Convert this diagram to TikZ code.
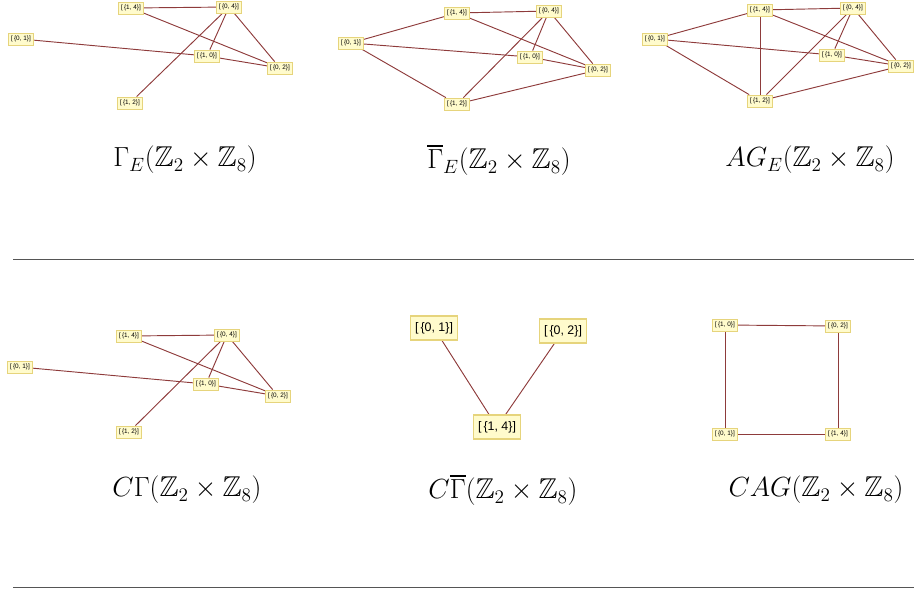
\documentclass[tikz,border=0pt]{standalone}
\usepackage{amssymb}
\usepackage{fontspec}
\newfontfamily\vfont{Liberation Sans}
\usetikzlibrary{backgrounds,shadows}
\definecolor{vfill}{HTML}{FFFBCC}
\definecolor{vdraw}{HTML}{E6D47C}
\definecolor{edgecol}{HTML}{8E3B3B}
\definecolor{rulecol}{HTML}{555555}
\tikzset{
  vsmall/.style={draw=vdraw, fill=vfill, line width=0.6pt, inner sep=0pt,
    minimum width=18.5pt, minimum height=9pt,
    font=\vfont\fontsize{4.8}{5}\selectfont,
    drop shadow={opacity=0.18, shadow xshift=0.6pt, shadow yshift=-0.6pt}},
  vlarge/.style={draw=vdraw, fill=vfill, line width=0.8pt, inner sep=0pt,
    minimum width=35pt, minimum height=18pt,
    font=\vfont\fontsize{9.3}{11}\selectfont,
    drop shadow={opacity=0.18, shadow xshift=0.8pt, shadow yshift=-0.8pt}},
  edge/.style={draw=edgecol, line width=0.7pt},
  caption/.style={font=\fontsize{21.5}{25}\selectfont, inner sep=0pt},
  rule/.style={draw=rulecol, line width=0.9pt},
}
\newcommand{\vlab}[2]{[\,\{#1, #2\}]}
\begin{document}
\begin{tikzpicture}[x=0.75pt, y=-0.75pt]
\useasboundingbox (0,0) rectangle (914,589);

% ---------- Panel 1: Gamma_E ----------
\node[vsmall] (a14) at (131,8) {\vlab{1}{4}};
\node[vsmall] (a04) at (229,7) {\vlab{0}{4}};
\node[vsmall] (a01) at (21,39) {\vlab{0}{1}};
\node[vsmall] (a10) at (207,56) {\vlab{1}{0}};
\node[vsmall] (a02) at (280,68) {\vlab{0}{2}};
\node[vsmall] (a12) at (130,103) {\vlab{1}{2}};
\begin{pgfonlayer}{background}
\draw[edge] (a14) -- (a04);
\draw[edge] (a14) -- (a02);
\draw[edge] (a04) -- (a10);
\draw[edge] (a04) -- (a12);
\draw[edge] (a04) -- (a02);
\draw[edge] (a01) -- (a10);
\draw[edge] (a10) -- (a02);
\end{pgfonlayer}
\node[caption] (capa) at (185,160) {$\Gamma_E(\mathbb{Z}_2\times\mathbb{Z}_8)$};

% ---------- Panel 2: overline Gamma_E ----------
\node[vsmall] (b14) at (457,13) {\vlab{1}{4}};
\node[vsmall] (b04) at (549,11) {\vlab{0}{4}};
\node[vsmall] (b01) at (351,43) {\vlab{0}{1}};
\node[vsmall] (b10) at (530,57) {\vlab{1}{0}};
\node[vsmall] (b02) at (598,70) {\vlab{0}{2}};
\node[vsmall] (b12) at (457,104) {\vlab{1}{2}};
\begin{pgfonlayer}{background}
\draw[edge] (b01) -- (b14);
\draw[edge] (b01) -- (b10);
\draw[edge] (b01) -- (b12);
\draw[edge] (b14) -- (b04);
\draw[edge] (b14) -- (b02);
\draw[edge] (b04) -- (b10);
\draw[edge] (b04) -- (b12);
\draw[edge] (b04) -- (b02);
\draw[edge] (b10) -- (b02);
\draw[edge] (b12) -- (b02);
\end{pgfonlayer}
\node[caption] (capb) at (499,160) {$\overline{\Gamma}_E(\mathbb{Z}_2\times\mathbb{Z}_8)$};

% ---------- Panel 3: AG_E ----------
\node[vsmall] (c14) at (760,10) {\vlab{1}{4}};
\node[vsmall] (c04) at (853,8) {\vlab{0}{4}};
\node[vsmall] (c01) at (655,39) {\vlab{0}{1}};
\node[vsmall] (c10) at (832,55) {\vlab{1}{0}};
\node[vsmall] (c02) at (901,66) {\vlab{0}{2}};
\node[vsmall] (c12) at (760,101) {\vlab{1}{2}};
\begin{pgfonlayer}{background}
\draw[edge] (c01) -- (c14);
\draw[edge] (c01) -- (c10);
\draw[edge] (c01) -- (c12);
\draw[edge] (c14) -- (c04);
\draw[edge] (c14) -- (c02);
\draw[edge] (c14) -- (c12);
\draw[edge] (c04) -- (c10);
\draw[edge] (c04) -- (c12);
\draw[edge] (c04) -- (c02);
\draw[edge] (c10) -- (c02);
\draw[edge] (c12) -- (c02);
\end{pgfonlayer}
\node[caption] (capc) at (810,160) {$AG_E(\mathbb{Z}_2\times\mathbb{Z}_8)$};

% ---------- rule 1 ----------
\coordinate (r1l) at (13,259.5);
\coordinate (r1r) at (914,259.5);
\draw[rule] (r1l) -- (r1r);

% ---------- Panel 4: C Gamma ----------
\node[vsmall] (d14) at (129,336) {\vlab{1}{4}};
\node[vsmall] (d04) at (227,335) {\vlab{0}{4}};
\node[vsmall] (d01) at (20,367) {\vlab{0}{1}};
\node[vsmall] (d10) at (206,384) {\vlab{1}{0}};
\node[vsmall] (d02) at (278,396) {\vlab{0}{2}};
\node[vsmall] (d12) at (129,432) {\vlab{1}{2}};
\begin{pgfonlayer}{background}
\draw[edge] (d14) -- (d04);
\draw[edge] (d14) -- (d02);
\draw[edge] (d04) -- (d10);
\draw[edge] (d04) -- (d12);
\draw[edge] (d04) -- (d02);
\draw[edge] (d01) -- (d10);
\draw[edge] (d10) -- (d02);
\end{pgfonlayer}
\node[caption] (capd) at (187,490) {$C\Gamma(\mathbb{Z}_2\times\mathbb{Z}_8)$};

% ---------- Panel 5: C overline Gamma ----------
\node[vlarge] (e01) at (434,328) {\vlab{0}{1}};
\node[vlarge] (e02) at (563,331) {\vlab{0}{2}};
\node[vlarge] (e14) at (497,427) {\vlab{1}{4}};
\begin{pgfonlayer}{background}
\draw[edge] (e01) -- (e14);
\draw[edge] (e02) -- (e14);
\end{pgfonlayer}
\node[caption] (cape) at (503,490) {$C\overline{\Gamma}(\mathbb{Z}_2\times\mathbb{Z}_8)$};

% ---------- Panel 6: CAG ----------
\node[vsmall] (f10) at (725,325) {\vlab{1}{0}};
\node[vsmall] (f02) at (838,326) {\vlab{0}{2}};
\node[vsmall] (f01) at (725,434) {\vlab{0}{1}};
\node[vsmall] (f14) at (838,434) {\vlab{1}{4}};
\begin{pgfonlayer}{background}
\draw[edge] (f10) -- (f02);
\draw[edge] (f02) -- (f14);
\draw[edge] (f14) -- (f01);
\draw[edge] (f01) -- (f10);
\end{pgfonlayer}
\node[caption] (capf) at (816,490) {$CAG(\mathbb{Z}_2\times\mathbb{Z}_8)$};

% ---------- rule 2 ----------
\coordinate (r2l) at (13,587.5);
\coordinate (r2r) at (914,587.5);
\draw[rule] (r2l) -- (r2r);
\end{tikzpicture}
\end{document}
